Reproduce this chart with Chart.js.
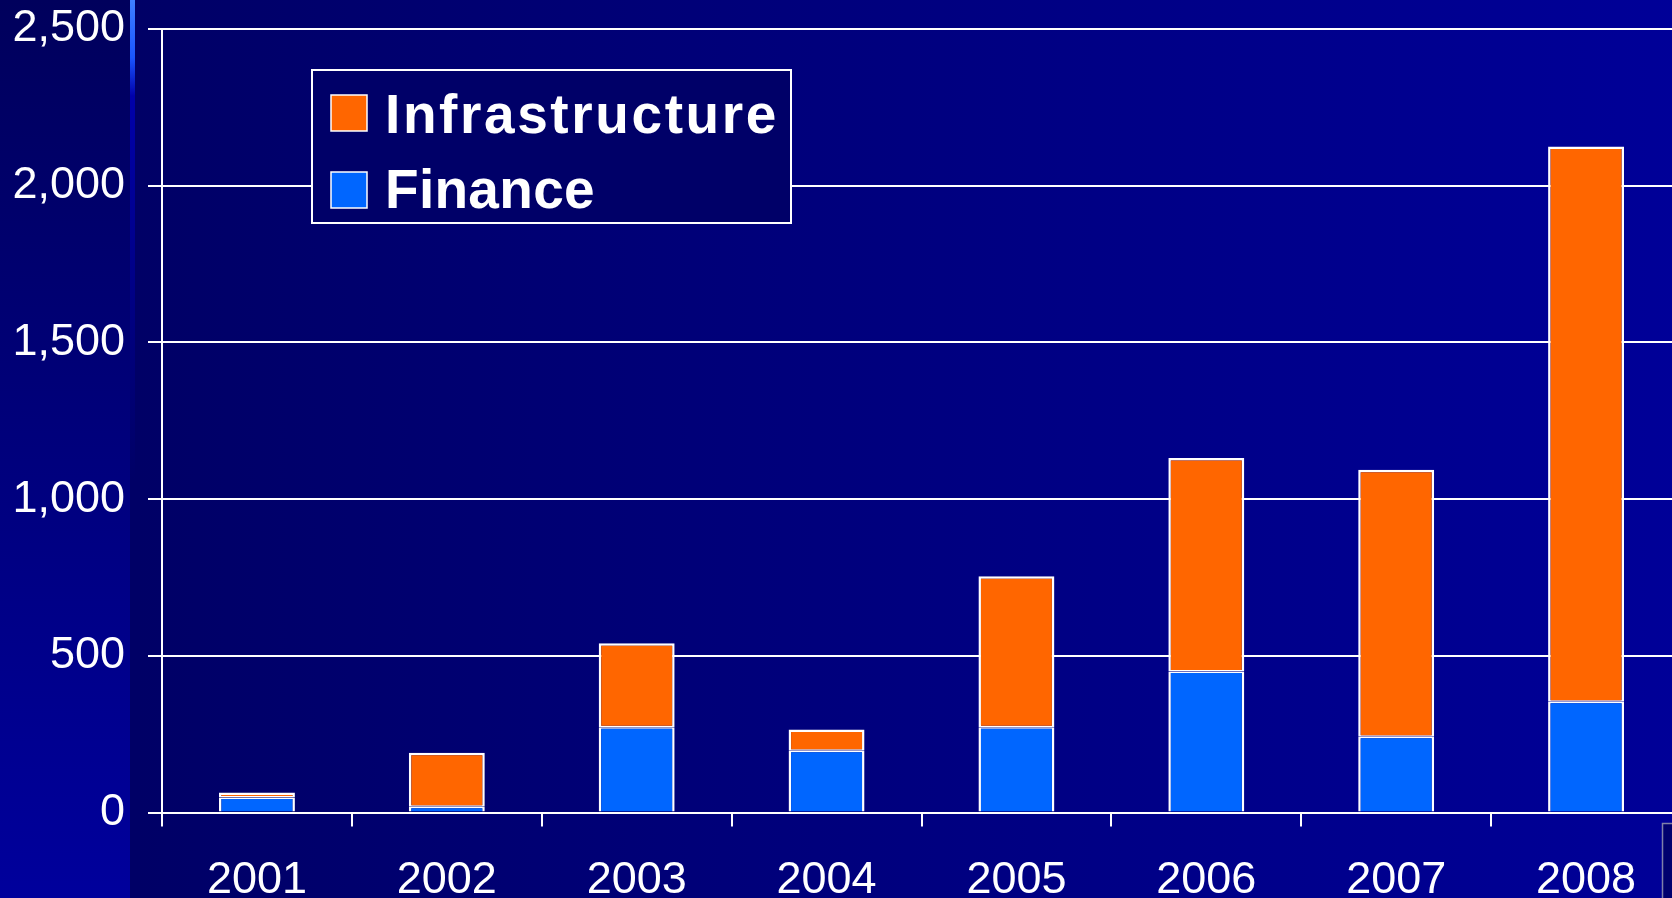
<!DOCTYPE html>
<html>
<head>
<meta charset="utf-8">
<script src="https://cdn.jsdelivr.net/npm/chart.js@4.4.1/dist/chart.umd.min.js"></script>
<style>
  html, body { margin: 0; padding: 0; background: #000066; overflow: hidden; }
  #wrap { width: 1682px; height: 898px; }
</style>
</head>
<body>
<div id="wrap"><canvas id="c" width="1682" height="898"></canvas></div>
<script>
const years = ['2001', '2002', '2003', '2004', '2005', '2006', '2007', '2008'];
const finance = [48, 18, 272, 197, 272, 450, 242, 353];
const infrastructure = [16, 173, 268, 68, 482, 681, 852, 1772];
const yTicks = [0, 500, 1000, 1500, 2000, 2500];

const FONT = "'Liberation Sans', Arial, sans-serif";

// slide background: dark navy getting lighter to the right, plus the left strip
const slideBg = {
    id: 'slideBg',
    beforeDraw(chart) {
        const ctx = chart.ctx, w = chart.width, h = chart.height;
        ctx.save();
        let g = ctx.createLinearGradient(135, 0, w, 0);
        g.addColorStop(0, '#000066');
        g.addColorStop(1, '#000098');
        ctx.fillStyle = g;
        ctx.fillRect(0, 0, w, h);

        g = ctx.createLinearGradient(0, 0, 0, h);
        g.addColorStop(0, '#00005c');
        g.addColorStop(1, '#00009c');
        ctx.fillStyle = g;
        ctx.fillRect(0, 0, 130, h);

        g = ctx.createLinearGradient(0, 0, 0, 480);
        g.addColorStop(0, '#3f7fff');
        g.addColorStop(0.12, '#1a55ff');
        g.addColorStop(0.2, '#0000aa');
        g.addColorStop(1, 'rgba(0,0,160,0)');
        ctx.fillStyle = g;
        ctx.fillRect(130, 0, 5, 480);

        // little box in the bottom-right corner
        ctx.fillStyle = '#00006e';
        ctx.fillRect(1662, 823, 30, 80);
        ctx.strokeStyle = '#7f80a8'; ctx.lineWidth = 1.5;
        ctx.strokeRect(1662.5, 823.5, 30, 80);
        ctx.restore();
    }
};

// boxed legend drawn inside the plot, Infrastructure on top
const boxLegend = {
    id: 'boxLegend',
    afterDraw(chart) {
        const ctx = chart.ctx;
        ctx.save();
        ctx.fillStyle = '#000068';
        ctx.fillRect(312, 70, 479, 153);
        ctx.strokeStyle = '#ffffff'; ctx.lineWidth = 2;
        ctx.strokeRect(312, 70, 479, 153);

        const rows = [
            { ds: chart.data.datasets[1], y: 95, base: 133, sp: '2.6px' },
            { ds: chart.data.datasets[0], y: 172, base: 208, sp: '0.3px' }
        ];
        ctx.font = 'bold 55px ' + FONT;
        ctx.textBaseline = 'alphabetic';
        rows.forEach(r => {
            ctx.fillStyle = r.ds.backgroundColor;
            ctx.fillRect(331, r.y, 36, 36);
            ctx.strokeStyle = '#ffffff'; ctx.lineWidth = 1.5;
            ctx.strokeRect(331, r.y, 36, 36);
            ctx.fillStyle = '#ffffff';
            ctx.letterSpacing = r.sp;
            ctx.fillText(r.ds.label, 385, r.base);
        });
        ctx.restore();
    }
};

new Chart(document.getElementById('c'), {
    type: 'bar',
    data: {
        labels: years,
        datasets: [
            { label: 'Finance', data: finance, backgroundColor: '#0066ff', borderColor: '#ffffff',
              borderWidth: { top: 1.5, left: 2.5, right: 2.5, bottom: 0 }, borderSkipped: false },
            { label: 'Infrastructure', data: infrastructure, backgroundColor: '#ff6600', borderColor: '#ffffff',
              borderWidth: { top: 2.5, left: 2.5, right: 2.5, bottom: 1.5 }, borderSkipped: false }
        ]
    },
    options: {
        responsive: false, animation: false,
        layout: { padding: { top: 29, right: 1, left: 0, bottom: 0 } },
        datasets: { bar: { barPercentage: 0.4, categoryPercentage: 1 } },
        plugins: { legend: { display: false }, tooltip: { enabled: false } },
        scales: {
            x: {
                stacked: true,
                afterFit: s => { s.height = 85.5; s.paddingLeft = 0; s.paddingRight = 0; },
                grid: { offset: true, drawOnChartArea: false, color: '#ffffff', lineWidth: 2, tickLength: 14 },
                border: { color: '#ffffff', width: 2 },
                ticks: { color: '#ffffff', font: { family: FONT, size: 45 }, padding: 27, maxRotation: 0 }
            },
            y: {
                stacked: true, min: 0, max: 2500,
                afterFit: s => { s.width = 162; s.paddingTop = 0; s.paddingBottom = 0; },
                afterBuildTicks: s => { s.ticks = yTicks.map(v => ({ value: v })); },
                grid: { color: '#ffffff', lineWidth: 2, tickLength: 14 },
                border: { color: '#ffffff', width: 2 },
                ticks: { color: '#ffffff', font: { family: FONT, size: 45 }, padding: 23,
                         callback: v => v.toLocaleString('en-US') }
            }
        }
    },
    plugins: [slideBg, boxLegend]
});
</script>
</body>
</html>
